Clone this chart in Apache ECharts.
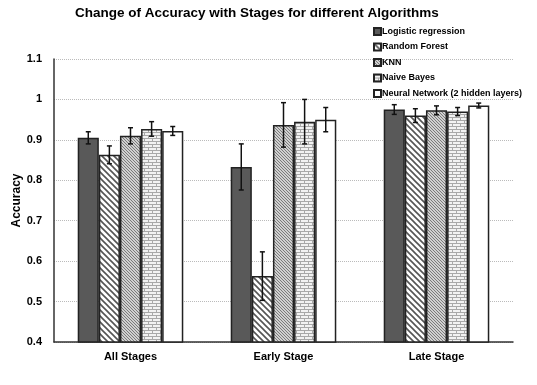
<!DOCTYPE html>
<html>
<head>
<meta charset="utf-8">
<script src="https://cdn.jsdelivr.net/npm/echarts@6/dist/echarts.min.js"></script>
<style>
  html, body { margin: 0; padding: 0; background: #fff; }
  #chart { width: 537px; height: 385px; }
</style>
</head>
<body>
<div id="chart"></div>
<script>
// data
var stages = ['All Stages', 'Early Stage', 'Late Stage'];
var algos = ['Logistic regression', 'Random Forest', 'KNN', 'Naive Bayes', 'Neural Network (2 hidden layers)'];
var lrVals = [0.905, 0.833, 0.975];
var rfVals = [0.863, 0.563, 0.960];
var knnVals = [0.910, 0.937, 0.973];
var nbVals = [0.927, 0.945, 0.970];
var nnVals = [0.922, 0.950, 0.985];
var lrErr = [0.015, 0.057, 0.012];
var rfErr = [0.022, 0.060, 0.017];
var knnErr = [0.020, 0.055, 0.011];
var nbErr = [0.018, 0.055, 0.010];
var nnErr = [0.011, 0.030, 0.006];

var values = [lrVals, rfVals, knnVals, nbVals, nnVals];
var errors = [lrErr, rfErr, knnErr, nbErr, nnErr];

// fill patterns
function tile(w, h, draw) {
  var c = document.createElement('canvas');
  c.width = w; c.height = h;
  draw(c.getContext('2d'), w, h);
  return { image: c, repeat: 'repeat' };
}
var stripes = tile(6, 6, function (g, w, h) {
  g.fillStyle = '#fff'; g.fillRect(0, 0, w, h);
  g.strokeStyle = '#555'; g.lineWidth = 1.6;
  g.beginPath();
  g.moveTo(-1, -1); g.lineTo(w + 1, h + 1);
  g.moveTo(-1, h - 1); g.lineTo(1, h + 1);
  g.moveTo(w - 1, -1); g.lineTo(w + 1, 1);
  g.stroke();
});
var fine = tile(3, 3, function (g, w, h) {
  g.fillStyle = '#d0d0d0'; g.fillRect(0, 0, w, h);
  g.fillStyle = '#7a7a7a';
  g.fillRect(0, 0, 1, 1); g.fillRect(1, 1, 1, 1); g.fillRect(2, 2, 1, 1);
});
var brick = tile(8, 6, function (g, w, h) {
  g.fillStyle = '#f2f2f2'; g.fillRect(0, 0, w, h);
  g.fillStyle = '#a8a8a8';
  g.fillRect(0, 0, w, 1);
  g.fillRect(0, 3, w, 1);
  g.fillRect(0, 0, 1, 3);
  g.fillRect(4, 3, 1, 3);
});
var fills = ['#595959', stripes, fine, brick, '#ffffff'];

var barCatGap = 0.31;

var series = [];
algos.forEach(function (name, i) {
  series.push({
    name: name,
    type: 'bar',
    data: values[i],
    barGap: '0%',
    barCategoryGap: '31%',
    itemStyle: { color: fills[i], borderColor: '#222', borderWidth: 1.5 }
  });
});
algos.forEach(function (name, i) {
  var data = stages.map(function (s, j) {
    return [j, values[i][j] - errors[i][j], values[i][j] + errors[i][j]];
  });
  series.push({
    type: 'custom',
    silent: true,
    z: 10,
    data: data,
    renderItem: function (params, api) {
      var catW = api.size([1, 0])[0];
      var barW = catW * (1 - barCatGap) / algos.length;
      var lo = api.coord([api.value(0), api.value(1)]);
      var hi = api.coord([api.value(0), api.value(2)]);
      var x = lo[0] + (i - 2) * barW;
      var cap = 2.5;
      var st = { stroke: '#111', lineWidth: 1.5 };
      return {
        type: 'group',
        children: [
          { type: 'line', shape: { x1: x, y1: lo[1], x2: x, y2: hi[1] }, style: st },
          { type: 'line', shape: { x1: x - cap, y1: lo[1], x2: x + cap, y2: lo[1] }, style: st },
          { type: 'line', shape: { x1: x - cap, y1: hi[1], x2: x + cap, y2: hi[1] }, style: st }
        ]
      };
    }
  });
});

var chart = echarts.init(document.getElementById('chart'));
chart.setOption({
  animation: false,
  backgroundColor: '#fff',
  textStyle: { fontFamily: 'Liberation Sans, Arial, sans-serif' },
  title: {
    text: 'Change of Accuracy with Stages for different Algorithms',
    left: 70,
    top: 1,
    textStyle: { fontSize: 13.5, fontWeight: 'bold', color: '#000' }
  },
  legend: {
    data: algos,
    orient: 'vertical',
    left: 368,
    top: 22,
    itemWidth: 7,
    itemHeight: 7,
    itemGap: 6.5,
    icon: 'rect',
    textStyle: { fontSize: 9, fontWeight: 'bold', color: '#000', padding: [0, 0, 0, -4] }
  },
  grid: { left: 54, right: 24, top: 59, bottom: 43, outerBoundsMode: 'none' },
  xAxis: {
    type: 'category',
    data: stages,
    axisLine: { lineStyle: { color: '#333', width: 1.5 } },
    axisTick: { show: false },
    axisLabel: { fontSize: 11, fontWeight: 'bold', color: '#000', margin: 9 }
  },
  yAxis: {
    type: 'value',
    min: 0.4,
    max: 1.1,
    interval: 0.1,
    name: 'Accuracy',
    nameLocation: 'middle',
    nameGap: 31,
    nameMoveOverlap: false,
    nameTextStyle: { fontSize: 12, fontWeight: 'bold', color: '#000' },
    axisLine: { show: true, lineStyle: { color: '#333', width: 1.5 } },
    axisTick: { show: false },
    axisLabel: { fontSize: 11, fontWeight: 'bold', color: '#000', margin: 12 },
    splitLine: { lineStyle: { color: '#bbb', type: 'dotted' } }
  },
  series: series
});
</script>
</body>
</html>
